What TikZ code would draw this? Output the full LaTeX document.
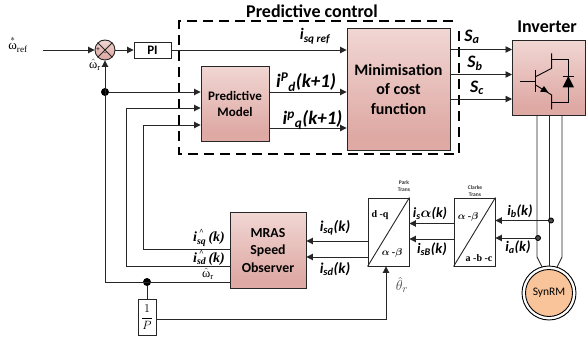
\documentclass[tikz,border=0pt]{standalone}
\usepackage{amsmath}
\usepackage{fontspec}
\setmainfont{Carlito}
\newfontfamily\serifnum{Liberation Serif}
\usetikzlibrary{arrows.meta,calc}
\definecolor{rosyA}{RGB}{232,184,178}
\definecolor{rosyB}{RGB}{222,168,163}
\definecolor{rosyC}{RGB}{251,240,238}
\pgfdeclareverticalshading{rosy}{100bp}{color(0bp)=(rosyA); color(30bp)=(rosyB); color(100bp)=(rosyC)}
\definecolor{wire}{gray}{0.15}
\definecolor{synfill}{RGB}{250,196,154}
\newcommand{\hatup}{\rlap{\hspace{2pt}\raisebox{7pt}{\fontsize{8}{8}\selectfont\^{}}}}
\tikzset{
  x=1pt,y=-1pt,
  block/.style={draw=black!85,line width=0.9pt,shading=rosy,inner sep=0pt,align=center},
  plainbox/.style={draw=black!85,line width=0.9pt,fill=white,inner sep=0pt},
  wireline/.style={draw=wire,line width=0.9pt},
  flow/.style={wireline,-{Triangle[length=6.5pt,width=6.5pt]}},
  lab/.style={inner sep=0pt,font=\bfseries\itshape\fontsize{#1}{#1}\selectfont},
  serlab/.style={inner sep=0pt,font=\serifnum\bfseries\itshape\fontsize{#1}{#1}\selectfont},
  tiny/.style={inner sep=0pt,align=center,text=black!80,font=\bfseries\fontsize{5.5}{7}\selectfont},
  ser/.style={inner sep=0pt,font=\serifnum\bfseries\fontsize{10}{10}\selectfont},
  om/.style={inner sep=0pt,font=\serifnum\fontsize{#1}{#1}\selectfont},
  jun/.style={circle,fill=black,inner sep=0pt,minimum size=#1},
}
\begin{document}
\begin{tikzpicture}
\useasboundingbox (0,0) rectangle (586,340);
% blocks
\node[block,font=\bfseries\fontsize{13}{16}\selectfont,minimum width=68pt,minimum height=75pt] (pm) at (235,103.5) {Predictive\\Model};
\node[block,font=\bfseries\fontsize{16}{19.5}\selectfont,minimum width=103pt,minimum height=122pt] (mc) at (398.5,89) {Minimisation\\of cost\\function};
\node[block,minimum width=73pt,minimum height=75pt,anchor=west] (inv) at (512,77.5) {};
\node[block,font=\bfseries\fontsize{13.8}{17.5}\selectfont,minimum width=76pt,minimum height=76pt] (mras) at (268,250.5) {MRAS\\Speed\\Observer};
\node[plainbox,minimum width=37pt,minimum height=16pt,font=\bfseries\fontsize{13}{13}\selectfont] (pi) at (152.5,50) {PI};
\node[plainbox,minimum width=18pt,minimum height=36pt] (frac) at (147,317) {\fontsize{13}{13}\selectfont$\dfrac{1}{P}$};
\node[plainbox,minimum width=41pt,minimum height=68pt] (park) at (388.5,232) {};
\node[plainbox,minimum width=41pt,minimum height=68pt] (clarke) at (474.5,232) {};
\draw[wireline] (park.south west) -- (park.north east);
\draw[wireline] (clarke.south west) -- (clarke.north east);
% summing junction
\node[circle,draw=black!85,line width=0.9pt,shading=rosy,minimum size=20pt,inner sep=0pt] (sum) at (105,50) {};
\draw[wireline] (sum.45) -- (sum.225) (sum.135) -- (sum.315);
\node[inner sep=0pt,font=\fontsize{7}{7}\selectfont] (plus) at (98,49.5) {+};
\node[inner sep=0pt,font=\fontsize{7}{7}\selectfont] (minus) at (105,54) {−};
% dashed frame
\coordinate (fa) at (453,21); \coordinate (fb) at (179,21); \coordinate (fc) at (179,154); \coordinate (fd) at (459,154); \coordinate (fe) at (459,26);
\draw[black,line width=1.4pt,dash pattern=on 10pt off 6pt] (fa) -- (fb) -- (fc) -- (fd) -- (fe);
% free ends and junctions
\coordinate (in) at (43,50);
\node[jun=8pt] (d1) at (105,92) {};
\node[jun=8pt] (d2) at (147,282) {};
\coordinate (c2) at (126,108);
\coordinate (c3) at (143,125);
\coordinate (c2b) at (126,266);
\coordinate (c3b) at (143,249);
\coordinate (c1b) at (105,282);
% forward path
\draw[flow] (in) -- (sum.west);
\draw[flow] (sum.east) -- (pi.west);
\draw[flow] (pi.east) -- (pi.east -| mc.west);
\coordinate (o1) at (269,92);
\coordinate (o2) at (269,128);
\draw[flow] (o1) -- (o1 -| mc.west);
\draw[flow] (o2) -- (o2 -| mc.west);
\draw[flow] (d1) -- (d1 -| pm.west);
\draw[flow] (c2b) -- (c2) -- (c2 -| pm.west);
\draw[flow] (c3b) -- (c3) -- (c3 -| pm.west);
\draw[flow] (c1b) -- (sum.south);
\draw[wireline] (c1b -| mras.west) -- (c1b);
\draw[wireline] (c2b -| mras.west) -- (c2b);
\draw[wireline] (c3b -| mras.west) -- (c3b);
\draw[wireline] (d2) -- (frac.north);
% outputs to inverter
\foreach \n/\yy in {a/49.5,b/74.5,c/99}{
  \coordinate (s\n) at (450,\yy);
  \draw[flow] (s\n) -- (s\n -| inv.west);
}
% inverter symbol
\begin{scope}[shift={(290,0)},x=0.3333pt,y=-0.3333pt,line width=0.9pt]
\draw (690,243) -- (737,243);
\draw[line width=1.2pt] (737,210) -- (737,275);
\draw (737,230) -- (785,205) -- (785,160);
\draw (737,255) -- (785,285) -- (785,328);
\fill (750,275) -- (775,277) -- (762,258) -- cycle;
\draw (785,178) -- (835,178) -- (835,308) -- (785,308);
\fill (818,262) -- (852,262) -- (835,228) -- cycle;
\draw (818,228) -- (852,228);
\end{scope}
% motor
\node[circle,draw=black,line width=0.9pt,fill=white,minimum size=54pt,inner sep=0pt] (motor) at (549,293) {};
\node[circle,draw=black,line width=0.9pt,fill=synfill,minimum size=47pt,inner sep=0pt,font=\fontsize{11.5}{11.5}\selectfont] (syn) at (549,293) {SynRM};
\coordinate (i1) at (537,115); \coordinate (i1b) at (537,257); \coordinate (i1c) at (542,267);
\coordinate (i2) at (549.5,115); \coordinate (i2c) at (549.5,266);
\coordinate (i3) at (562,115); \coordinate (i3b) at (562,257); \coordinate (i3c) at (557,267);
\draw[wireline] (i1) -- (i1b) -- (i1c);
\draw[wireline] (i2) -- (i2c);
\draw[wireline] (i3) -- (i3b) -- (i3c);
\node[circle,draw=black,line width=0.9pt,fill=black!70,inner sep=0pt,minimum size=5pt] (sb) at (551,220.5) {};
\node[circle,draw=black,line width=0.9pt,fill=black!70,inner sep=0pt,minimum size=5pt] (sa) at (538,238) {};
% feedback currents
\draw[flow] (sb) -- (sb -| clarke.east);
\draw[flow] (sa) -- (sa -| clarke.east);
\coordinate (t1) at (454,223.5);
\coordinate (t2) at (454,239);
\draw[flow] (t1) -- (t1 -| park.east);
\draw[flow] (t2) -- (t2 -| park.east);
\coordinate (p1) at (368,241);
\coordinate (p2) at (368,257);
\draw[flow] (p1) -- (p1 -| mras.east);
\draw[flow] (p2) -- (p2 -| mras.east);
\coordinate (th) at (386,319);
\draw[flow] (frac.east |- th) -- (th) -- (th |- park.south);
% labels
\node[inner sep=0pt,font=\bfseries\fontsize{18}{18}\selectfont] (tpc) at (312,11) {Predictive control};
\node[inner sep=0pt,font=\bfseries\fontsize{18}{18}\selectfont] (tinv) at (547,27) {Inverter};
\node[lab=16] (l1) at (315,36) {i\textsubscript{sq ref}};
\node[lab=19] (l2) at (306,82) {i\textsuperscript{P}\textsubscript{d}(k+1)};
\node[lab=19] (l3) at (312.5,120) {i\textsuperscript{p}\textsubscript{q}(k+1)};
\node[lab=17.5] (sal) at (472,37) {S\textsubscript{a}};
\node[lab=17.5] (sbl) at (475,63) {S\textsubscript{b}};
\node[lab=17.5] (scl) at (477,88) {S\textsubscript{c}};
\node[om=13] (wref) at (18,44) {$\overset{\ast}{\mbox{ω}}$\textsubscript{ref}};
\node[om=12.5] (wf) at (95,65) {$\hat{\mbox{ω}}$\textsubscript{r}};
\node[om=12.5] (wr) at (208,274) {$\hat{\mbox{ω}}$\textsubscript{r}};
\node[serlab=14] (q1) at (209,238) {i\hatup\textsubscript{sq}\,(k)};
\node[serlab=14] (q2) at (209,258) {i\hatup\textsubscript{sd}\,(k)};
\node[lab=15] (q3) at (335,228) {i\textsubscript{sq}(k)};
\node[lab=15] (q4) at (335,269) {i\textsubscript{sd}(k)};
\node[lab=14] (al) at (430,213) {i\textsubscript{s}$\boldsymbol{\alpha}$(k)};
\node[lab=14.5] (be) at (432,249) {i\textsubscript{sB}(k)};
\node[lab=14.5] (ib) at (520,211) {i\textsubscript{b}(k)};
\node[lab=14.5] (ia) at (518,247) {i\textsubscript{a}(k)};
\node[tiny] (tp) at (404,186) {Park\\Trans};
\node[tiny] (tc) at (475,191) {Clarke\\Trans};
\node[ser] (dq) at (380,215) {d -q};
\node[ser] (ab1) at (392,253) {$\boldsymbol{\alpha}$ -$\boldsymbol{\beta}$};
\node[ser] (ab2) at (468,217) {$\boldsymbol{\alpha}$ -$\boldsymbol{\beta}$};
\node[ser] (abc) at (479,258.5) {a -b -c};
\node[inner sep=0pt,text=black!70,font=\fontsize{15}{15}\selectfont] (th1) at (402,285) {$\hat{\theta}_r$};
\end{tikzpicture}
\end{document}
